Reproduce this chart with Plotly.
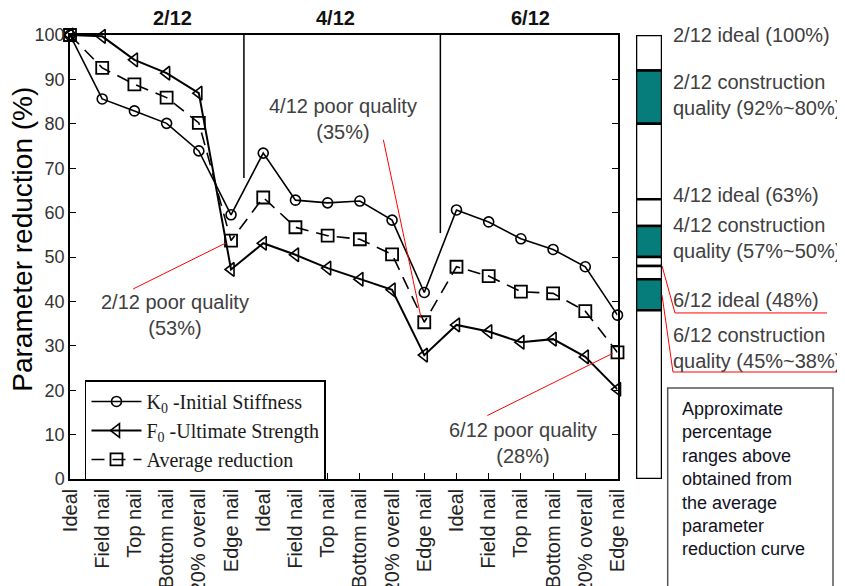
import plotly.graph_objects as go

# ---------------- data ----------------
categories = ["Ideal", "Field nail", "Top nail", "Bottom nail", "20% overall", "Edge nail"] * 3
groups = ["2/12", "4/12", "6/12"]
k0_initial_stiffness = [100, 85.6, 82.9, 80.1, 73.9, 59.5,
                        73.4, 62.8, 62.2, 62.6, 58.3, 42.0,
                        60.6, 57.9, 54.1, 51.7, 47.8, 36.9]
f0_ultimate_strength = [100, 99.7, 94.4, 91.4, 86.9, 47.2,
                        53.1, 50.5, 47.5, 45.0, 42.6, 27.9,
                        34.7, 33.2, 30.8, 31.5, 27.5, 20.2]
average_reduction = [100, 92.6, 88.9, 85.9, 80.2, 53.7,
                     63.4, 56.7, 54.8, 54.0, 50.6, 35.3,
                     47.8, 45.7, 42.2, 41.8, 37.8, 28.5]
y_ticks = [0, 10, 20, 30, 40, 50, 60, 70, 80, 90, 100]

# right-hand range bar (percent bands)
band_top = [100, 92, 80, 63, 57, 50, 48, 45, 38]
band_bottom = [92, 80, 63, 57, 50, 48, 45, 38, 0]
band_fill = ["white", "teal", "white", "white", "teal", "white", "white", "teal", "white"]
band_labels = ["2/12 ideal (100%)", "2/12 construction<br>quality (92%~80%)",
               "4/12 ideal (63%)", "4/12 construction<br>quality (57%~50%)",
               "6/12 ideal (48%)", "6/12 construction<br>quality (45%~38%)"]
band_label_y = [100, 86.6, 64, 54.3, 40.3, 29.6]

TEAL = "#077d7b"
idx = list(range(len(categories)))

fig = go.Figure()

fig.add_trace(go.Scatter(
    x=idx, y=k0_initial_stiffness, mode="lines+markers",
    name="K<sub>0</sub> -Initial Stiffness",
    line=dict(color="black", width=1.6),
    marker=dict(symbol="circle-open", size=10, color="black", line=dict(width=1.6)),
    cliponaxis=False))
fig.add_trace(go.Scatter(
    x=idx, y=f0_ultimate_strength, mode="lines+markers",
    name="F<sub>0</sub> -Ultimate Strength",
    line=dict(color="black", width=2),
    marker=dict(symbol="triangle-left-open", size=12, color="black", line=dict(width=1.6)),
    cliponaxis=False))
fig.add_trace(go.Scatter(
    x=idx, y=average_reduction, mode="lines+markers",
    name="Average reduction",
    line=dict(color="black", width=1.6, dash="13px,8px"),
    marker=dict(symbol="square-open", size=12, color="black", line=dict(width=1.8)),
    cliponaxis=False))

# range bar
fig.add_trace(go.Bar(
    x=[0] * len(band_top),
    y=[t - b for t, b in zip(band_top, band_bottom)],
    base=band_bottom, width=1,
    marker=dict(color=[TEAL if c == "teal" else "white" for c in band_fill],
                line=dict(color="black", width=2.5)),
    xaxis="x2", yaxis="y", showlegend=False, hoverinfo="skip", cliponaxis=False))

# page has an 8px body margin: figure is 837x578 placed at (8, 8)
PLOT_R = 0.7157
fig.update_layout(
    width=837, height=578,
    margin=dict(l=62, r=10, t=27, b=107),
    paper_bgcolor="white", plot_bgcolor="white",
    barmode="overlay",
    font=dict(family="Liberation Sans, Arial", color="#333333"),
    xaxis=dict(domain=[0, PLOT_R], range=[0, 17], automargin=False,
               tickmode="array", tickvals=idx, ticktext=categories,
               tickangle=-90, tickfont=dict(size=20, color="#222222"),
               ticks="inside", ticklen=6, tickcolor="black",
               showline=True, linecolor="black", linewidth=1.5, mirror=True,
               showgrid=False, zeroline=False),
    yaxis=dict(range=[0, 100], tickvals=y_ticks, automargin=False,
               tickfont=dict(size=18, color="#333333"),
               ticks="inside", ticklen=6, tickcolor="black",
               showline=True, linecolor="black", linewidth=1.5, mirror="ticks",
               showgrid=False, zeroline=False),
    xaxis2=dict(domain=[0.7399, 0.7739], range=[-0.5, 0.5], anchor="y",
                visible=False, showgrid=False, zeroline=False, automargin=False),
    legend=dict(x=0.0196, y=0.222, xanchor="left", yanchor="top",
                bgcolor="white", bordercolor="black", borderwidth=1.5,
                font=dict(family="Liberation Serif, Times New Roman", size=20, color="#1a1a1a"),
                tracegroupgap=0, itemwidth=50),
    showlegend=True,
)

shapes = []
# group separators
for sx, sy in [(5.4, 67.8), (11.5, 55.4)]:
    shapes.append(dict(type="line", xref="x", yref="y", x0=sx, x1=sx, y0=100, y1=sy,
                       line=dict(color="black", width=1.5)))
# callout lines for poor quality annotations
shapes.append(dict(type="line", xref="x", yref="y", x0=1.96, y0=42.8, x1=4.85, y1=average_reduction[5] - 0.5,
                   line=dict(color="red", width=1)))
shapes.append(dict(type="line", xref="x", yref="y", x0=9.73, y0=76.4, x1=10.9, y1=average_reduction[11] + 1,
                   line=dict(color="red", width=1)))
shapes.append(dict(type="line", xref="x", yref="y", x0=12.96, y0=14.3, x1=16.85, y1=average_reduction[17] - 0.2,
                   line=dict(color="red", width=1)))
# right-side red leader lines
shapes += [
    dict(type="line", xref="paper", yref="y", x0=0.7739, y0=48, x1=0.7908, y1=37.4, line=dict(color="red", width=1)),
    dict(type="line", xref="paper", yref="y", x0=0.7908, y0=37.4, x1=0.9895, y1=37.4, line=dict(color="red", width=1)),
    dict(type="line", xref="paper", yref="y", x0=0.7739, y0=41.4, x1=0.7882, y1=24.1, line=dict(color="red", width=1)),
    dict(type="line", xref="paper", yref="y", x0=0.7882, y0=24.1, x1=1.02, y1=24.1, line=dict(color="red", width=1)),
]
# note box
shapes.append(dict(type="rect", xref="paper", yref="paper", x0=0.7813, x1=0.9974, y0=0.205, y1=-0.35,
                   line=dict(color="#555555", width=1.5), fillcolor="rgba(0,0,0,0)"))
fig.update_layout(shapes=shapes)

ann = []
for g, gx in zip(groups, [3.17, 8.24, 14.3]):
    ann.append(dict(x=gx, y=1.038, xref="x", yref="paper", text="<b>" + g + "</b>", showarrow=False,
                    font=dict(size=20, color="#111111", family="Liberation Sans, Arial"),
                    xanchor="center", yanchor="middle"))
# y-axis title
ann.append(dict(x=-0.0614, y=0.539, xref="paper", yref="paper", text="Parameter reduction (%)",
                textangle=-90, showarrow=False, font=dict(size=28, color="black"),
                xanchor="center", yanchor="middle"))
# poor quality labels
for txt, ax_, ay_ in [("2/12 poor quality<br>(53%)", 3.26, 36.9),
                      ("4/12 poor quality<br>(35%)", 8.49, 81.1),
                      ("6/12 poor quality<br>(28%)", 14.08, 8.1)]:
    ann.append(dict(x=ax_, y=ay_, xref="x", yref="y", text=txt, showarrow=False,
                    font=dict(size=20, color="#404040"), align="center",
                    xanchor="center", yanchor="middle"))
# right labels
for txt, ly in zip(band_labels, band_label_y):
    ann.append(dict(x=0.7856, y=ly, xref="paper", yref="y", text=txt, showarrow=False,
                    font=dict(size=20, color="#404040"), align="left",
                    xanchor="left", yanchor="middle"))
# note text
ann.append(dict(x=0.7974, y=0.185, xref="paper", yref="paper",
                text="Approximate<br>percentage<br>ranges above<br>obtained from<br>the average<br>parameter<br>reduction curve",
                showarrow=False, align="left", xanchor="left", yanchor="top",
                font=dict(size=18, color="#111122")))
fig.update_layout(annotations=ann)

fig.write_html("out.html")
